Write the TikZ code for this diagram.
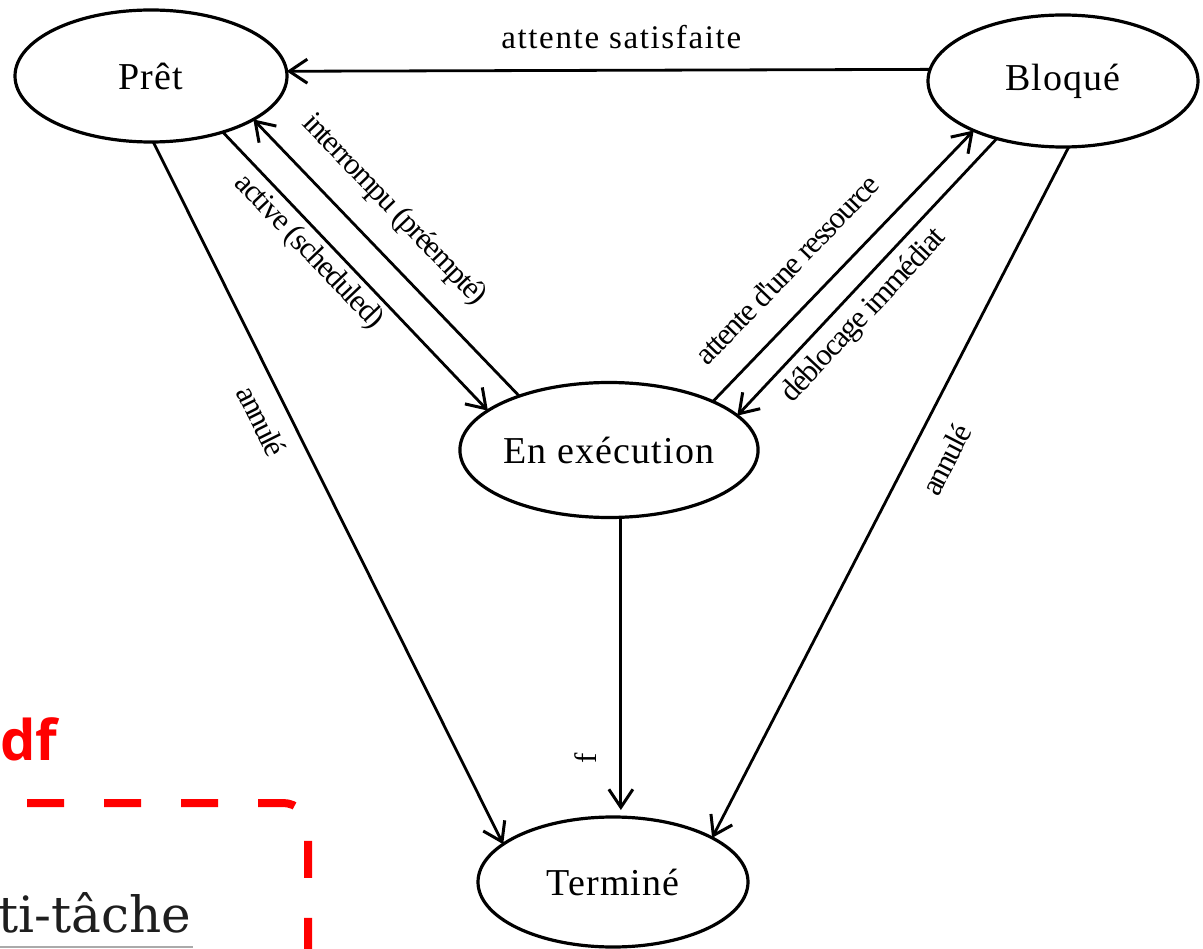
\documentclass[tikz,border=0pt]{standalone}
\usepackage{fontspec}
\setmainfont{Liberation Serif}
\newfontfamily\statefont[LetterSpace=3]{Liberation Serif}
\newfontfamily\slopefont[LetterSpace=-5]{Liberation Serif}
\newfontfamily\wordfont[LetterSpace=5]{Liberation Serif}
\newfontfamily\notefont{Open Sans}
\newfontfamily\bodyfont{DejaVu Serif}
\usetikzlibrary{arrows.meta,shapes.geometric}
\definecolor{notered}{RGB}{255,0,0}
\definecolor{bodytext}{RGB}{30,30,30}
\definecolor{rulegray}{RGB}{170,170,170}

\begin{document}
\begin{tikzpicture}[x=1pt,y=-1pt,
  state/.style={draw, line width=3.2pt, ellipse, minimum width=272pt,
    minimum height=132pt, inner sep=0pt, outer sep=0pt,
    font=\statefont\fontsize{38}{42}\selectfont},
  barb/.tip={Straight Barb[length=18pt,width=24pt,line width=3pt]},
  trans/.style={line width=2.8pt, -barb},
  lab/.style={sloped, inner sep=0pt, font=\slopefont\fontsize{31}{35}\selectfont},
]
\useasboundingbox (0,0) rectangle (1203,949);
\fill[white] (0,0) rectangle (1203,949);

% process states
\node[state] (pret) at (151,76) {Prêt};
\node[state, minimum width=270pt] (bloq) at (1063,81) {Bloqué};
\node[state, minimum height=135pt] (exe) at (609,450) {En exécution};
\node[state, minimum width=270pt, minimum height=130pt] (term) at (613,882) {Terminé};

% transitions
\draw[trans] (bloq.175.8) -- node[pos=0.48, above=20pt, inner sep=0pt,
  font=\wordfont\fontsize{33}{37}\selectfont] {attente satisfaite} (pret.2.1);
\draw[trans] (pret.-38) -- node[lab, pos=0.38, below=5pt] {active (scheduled)} (exe.162.7);
\draw[trans] (exe.149.8) -- node[lab, pos=0.575, above=23pt] {interrompu (préempté)} (pret.-23.3);
\draw[trans] (exe.25) -- node[lab, pos=0.39, above=26pt] {attente d'une ressource} (bloq.-151.1);
\draw[trans] (bloq.-139.7) -- node[lab, pos=0.58, below=9pt] {déblocage immédiat} (exe.15.3);
\draw[trans] (pret.-88) -- node[lab, pos=0.38, below=15pt] {annulé} (term.161.4);
\draw[trans] (bloq.-85.7) -- node[lab, pos=0.43, below=22pt] {annulé} (term.24.9);
\draw[line width=2.8pt, barb-, shorten <=7pt] (exe.-80.7 |- term.north)
  -- node[lab, pos=0.197, above=23pt] {f} (exe.-80.7);

% page fragments in the lower left corner
\node[anchor=base west, text=notered, inner sep=0pt,
  font=\notefont\bfseries\fontsize{56}{60}\selectfont] (pdfword) at (0,760) {df};
\draw[notered, line width=8pt, dash pattern=on 37pt off 40pt, rounded corners=25pt]
  (27,803) -- (308,803) -- (308,949);
\node[anchor=base east, text=bodytext, inner sep=0pt,
  font=\bodyfont\fontsize{50}{54}\selectfont] (tache) at (191,932) {ti-tâche};
\draw[rulegray, line width=2pt] (0,947) -- (193,947);
\end{tikzpicture}
\end{document}
